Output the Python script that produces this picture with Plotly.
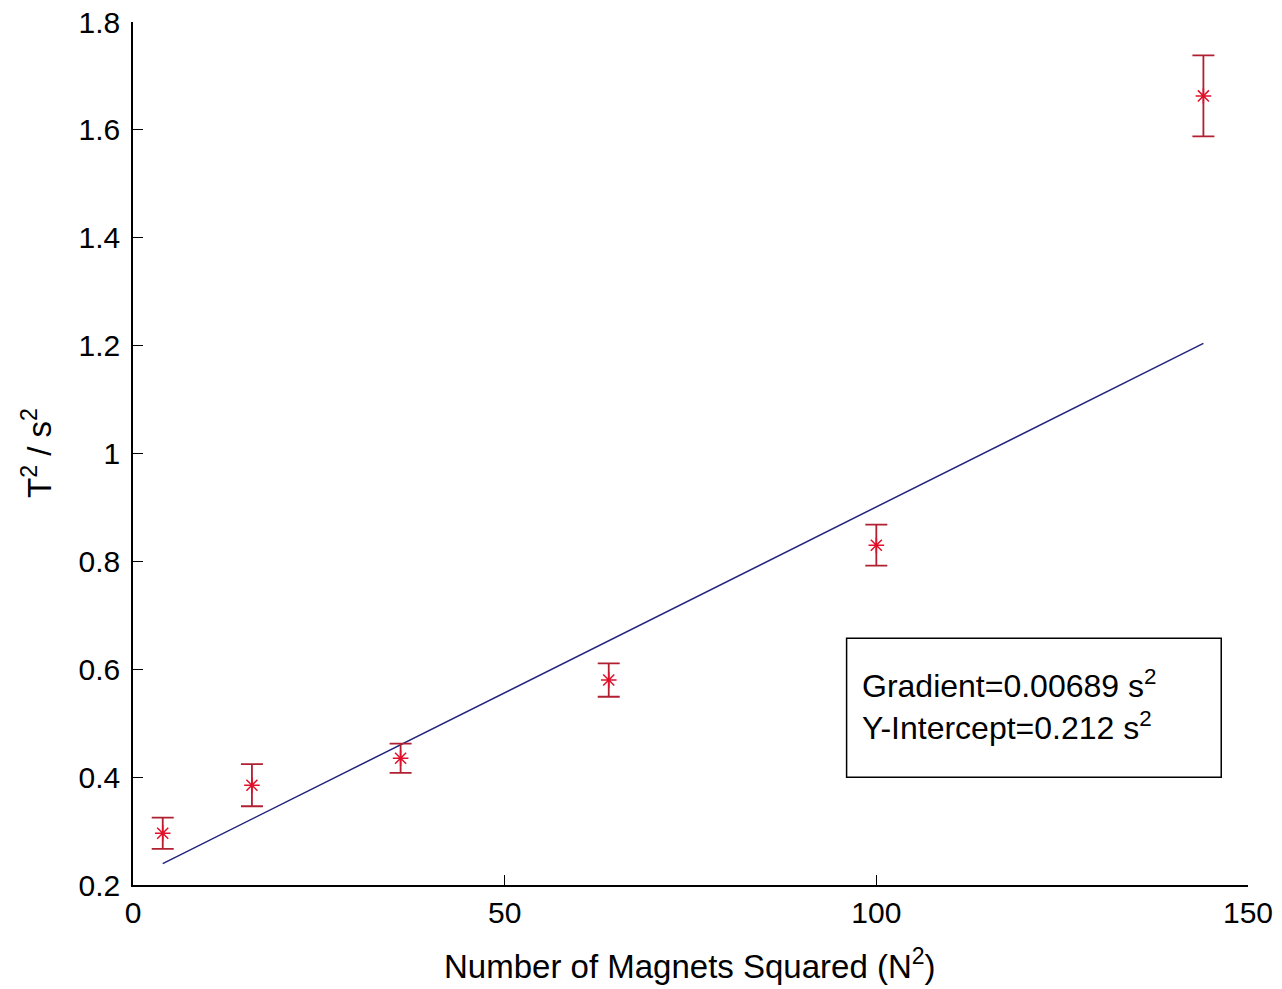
import plotly.graph_objects as go
import numpy as np

# Data
n_squared = [4, 16, 36, 64, 100, 144]
t_squared = [0.296, 0.385, 0.435, 0.580, 0.830, 1.663]
t_err = [0.029, 0.039, 0.027, 0.031, 0.038, 0.075]
gradient = 0.00689
intercept = 0.212

x_ticks = [0, 50, 100, 150]
y_ticks = [0.2, 0.4, 0.6, 0.8, 1.0, 1.2, 1.4, 1.6, 1.8]
y_tick_labels = ["0.2", "0.4", "0.6", "0.8", "1", "1.2", "1.4", "1.6", "1.8"]

FONT = "Liberation Sans, Arial, sans-serif"

fit_x = np.array([n_squared[0], n_squared[-1]], dtype=float)
fit_y = gradient * fit_x + intercept

fig = go.Figure()
fig.add_trace(go.Scatter(
    x=fit_x, y=fit_y, mode="lines",
    line=dict(color="#23237e", width=1.5),
    showlegend=False, hoverinfo="skip"))
fig.add_trace(go.Scatter(
    x=n_squared, y=t_squared, mode="markers",
    marker=dict(symbol="asterisk-open", size=13, color="#e0102a",
                line=dict(color="#e0102a", width=1.5)),
    error_y=dict(type="data", array=t_err, visible=True,
                 color="#b02030", thickness=1.8, width=11),
    showlegend=False))

fig.add_shape(type="rect", xref="paper", yref="paper",
              x0=0.640, x1=0.976, y0=0.125, y1=0.286,
              line=dict(color="black", width=1.5), fillcolor="white",
              layer="above")
fig.add_annotation(
    xref="paper", yref="paper", x=0.652, y=0.209, xanchor="left", yanchor="middle",
    text="Gradient=0.00689 s<sup>2</sup><br>Y-Intercept=0.212 s<sup>2</sup>",
    showarrow=False, align="left",
    font=dict(family=FONT, size=32, color="black"))

# axis titles
fig.add_annotation(
    xref="paper", yref="paper", x=(690 - 133) / 1115, y=-(964 - 885) / 863,
    xanchor="center", yanchor="middle", showarrow=False,
    text="Number of Magnets Squared (N<sup>2</sup>)",
    font=dict(family=FONT, size=33, color="black"))
fig.add_annotation(
    xref="paper", yref="paper", x=-(133 - 37) / 1115, y=(885 - 453) / 863,
    xanchor="center", yanchor="middle", showarrow=False, textangle=-90,
    text="T<sup>2</sup> / s<sup>2</sup>",
    font=dict(family=FONT, size=33, color="black"))

fig.update_layout(
    width=1282, height=989,
    margin=dict(l=133, r=34, t=22, b=104),
    paper_bgcolor="white", plot_bgcolor="white",
    font=dict(family=FONT, size=30, color="black"),
    xaxis=dict(range=[0, 150], tickvals=x_ticks, ticks="inside", ticklen=10,
               tickcolor="black", showline=True, linecolor="black", linewidth=1.5,
               showgrid=False, zeroline=False, mirror=False, automargin=False,
               tickfont=dict(size=30)),
    yaxis=dict(range=[0.2, 1.8], tickvals=y_ticks, ticktext=y_tick_labels,
               ticks="inside", ticklen=10, ticklabelstandoff=5,
               tickcolor="black", showline=True, linecolor="black", linewidth=1.5,
               showgrid=False, zeroline=False, mirror=False, automargin=False,
               tickfont=dict(size=30)),
)

fig.write_html("out.html")
